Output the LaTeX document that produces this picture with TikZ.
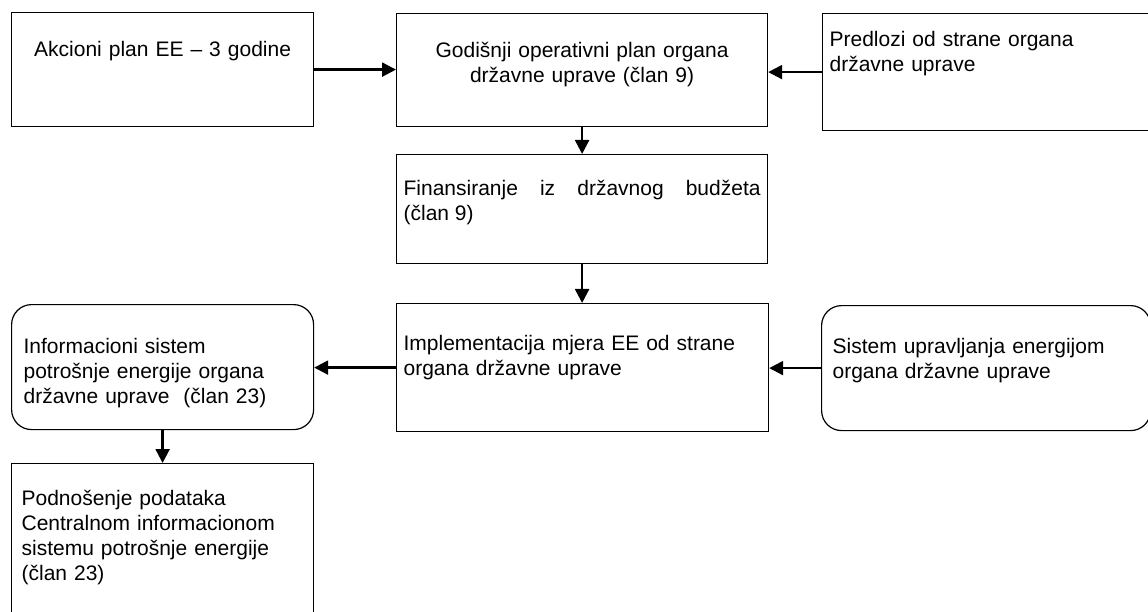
\documentclass[tikz,border=0pt]{standalone}
\usepackage{fontspec}
\setmainfont{Liberation Sans}
\usetikzlibrary{arrows.meta,positioning}

\begin{document}
\begin{tikzpicture}[x=1pt,y=-1pt,
    blok/.style={draw,line width=1.2pt,anchor=north west,inner xsep=7pt,inner ysep=0pt,
        align=left,font=\fontsize{21}{25}\selectfont},
    zaobljen/.style={blok,rounded corners=20pt,inner xsep=12pt},
    strelica/.style={-{Triangle[length=14pt,width=14pt]},line width=2.3pt}]
    \useasboundingbox (0,0) rectangle (1148,612);
    \clip (0,0) rectangle (1148,612);

    \node[blok,align=center,text width=288pt,text height=44pt,text depth=70pt] (akc) at (11,12) {Akcioni plan EE – 3 godine};
    \node[blok,align=center,text width=357pt,text height=44pt,text depth=69pt] (god) at (396,13) {Godišnji operativni plan organa\\državne uprave (član 9)};
    \node[blok,text width=316pt,text height=33pt,text depth=84pt] (pred) at (822,13) {Predlozi od strane organa\\državne uprave};
    \node[blok,align=justify,text width=357pt,text height=41pt,text depth=68pt] (fin) at (396,154) {Finansiranje iz državnog budžeta\linebreak (član 9)};
    \node[zaobljen,text width=278pt,text height=49pt,text depth=76pt] (info) at (11,304) {Informacioni sistem\\potrošnje energije organa\\državne uprave~ (član 23)};
    \node[blok,text width=358pt,text height=47pt,text depth=81pt] (impl) at (396,303) {Implementacija mjera EE od strane\\organa državne uprave};
    \node[zaobljen,inner xsep=11pt,text width=307pt,text height=48pt,text depth=77pt] (sist) at (821,305) {Sistem upravljanja energijom\\organa državne uprave};
    \node[blok,inner xsep=10pt,text width=282pt,text height=42pt,text depth=118pt] (podn) at (11,463) {Podnošenje podataka\\Centralnom informacionom\\sistemu potrošnje energije\\(član 23)};

    % Arrows
    \draw[strelica] (akc.east) -- (akc.east -| god.west);
    \draw[strelica] (pred.west) -- (pred.west -| god.east);
    \draw[strelica] (god.south) -- (fin.north);
    \draw[strelica] (fin.south) -- (fin.south |- impl.north);
    \draw[strelica] (sist.west) -- (sist.west -| impl.east);
    \draw[strelica] (impl.west) -- (impl.west -| info.east);
    \draw[strelica] (info.south) -- (podn.north);
\end{tikzpicture}
\end{document}
